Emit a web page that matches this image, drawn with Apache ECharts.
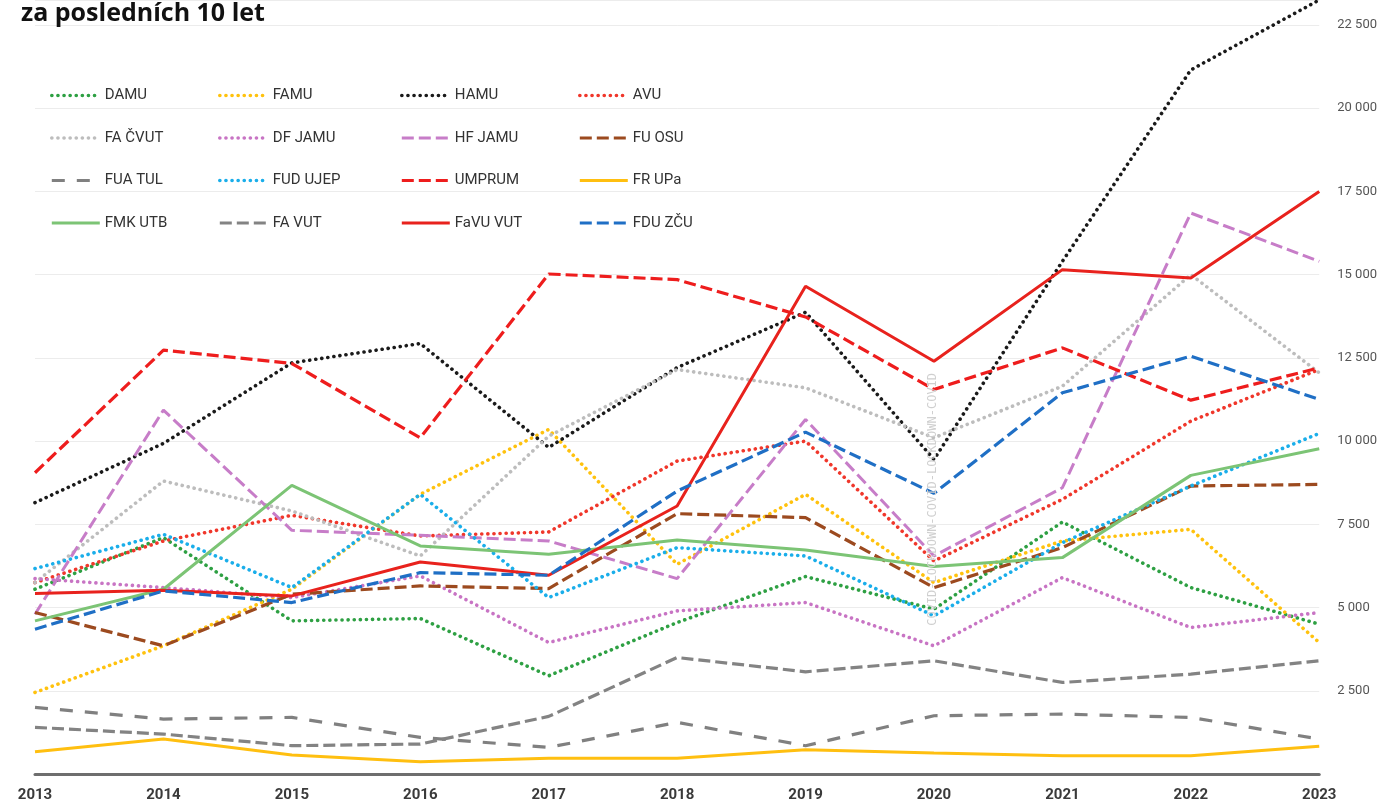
<!DOCTYPE html>
<html>
<head>
<meta charset="UTF-8">
<title>za posledních 10 let</title>
<style>
html, body { margin: 0; padding: 0; background: #fff; }
#main { width: 1380px; height: 803px; }
</style>
</head>
<body>
<div id="main"></div>
<script src="https://cdn.jsdelivr.net/npm/echarts@6/dist/echarts.min.js"></script>
<script>
// roky
var years = ['2013', '2014', '2015', '2016', '2017', '2018', '2019', '2020', '2021', '2022', '2023'];

// hodnoty
var damu    = [5550, 7100, 4600, 4670, 2950, 4550, 5930, 4950, 7570, 5600, 4500];
var famu    = [2450, 3850, 5550, 8400, 10350, 6300, 8400, 5750, 7000, 7350, 3950];
var hamu    = [8150, 9930, 12350, 12930, 9810, 12210, 13870, 9450, 15400, 21150, 23250];
var avu     = [5750, 7000, 7770, 7150, 7270, 9400, 10000, 6400, 8250, 10600, 12150];
var faCvut  = [5750, 8800, 7900, 6550, 10150, 12150, 11600, 10100, 11650, 15000, 12050];
var dfJamu  = [5870, 5600, 5300, 5950, 3950, 4900, 5150, 3850, 5900, 4400, 4850];
var hfJamu  = [4800, 10930, 7320, 7170, 7000, 5870, 10650, 6550, 8600, 16850, 15400];
var fuOsu   = [4850, 3850, 5400, 5650, 5570, 7820, 7700, 5600, 6800, 8650, 8700];
var fuaTul  = [2000, 1650, 1700, 1100, 800, 1550, 850, 1750, 1800, 1700, 1050];
var fudUjep = [6170, 7200, 5600, 8400, 5300, 6800, 6550, 4750, 6950, 8650, 10230];
var umprum  = [9050, 12730, 12330, 10100, 15020, 14850, 13730, 11550, 12800, 11230, 12200];
var frUpa   = [670, 1050, 570, 370, 470, 470, 730, 630, 550, 550, 830];
var fmkUtb  = [4600, 5550, 8670, 6850, 6600, 7030, 6730, 6230, 6500, 8970, 9770];
var faVut   = [1400, 1200, 850, 900, 1730, 3500, 3070, 3400, 2750, 3000, 3400];
var favuVut = [5420, 5520, 5350, 6370, 5970, 8050, 14650, 12400, 15150, 14900, 17500];
var fduZcu  = [4350, 5500, 5150, 6050, 5970, 8500, 10270, 8430, 11450, 12550, 11250];

var app = echarts.init(document.getElementById('main'));

var DOT = [0.1, 6];
var DASH = [12, 5];
var styles = {};

function line(name, data, color, type, width) {
	var ls = {
		color: color,
		width: width || 3,
		type: type,
		cap: type === DOT ? 'round' : 'butt'
	};
	styles[name] = ls;
	return {
		name: name,
		type: 'line',
		data: data,
		symbol: 'none',
		smooth: false,
		lineStyle: ls,
		itemStyle: { color: color }
	};
}

function legendCol(left, names) {
	return {
		orient: 'vertical',
		left: left - 5,
		top: 83,
		itemWidth: 48,
		itemHeight: 14,
		itemGap: 27.5,
		selectedMode: false,
		itemStyle: { opacity: 0 },
		textStyle: {
			color: '#333',
			fontSize: 15,
			fontFamily: 'Roboto'
		},
		data: names.map(function (n) {
			var s = styles[n];
			return {
				name: n,
				itemStyle: { opacity: 0 },
				lineStyle: {
					color: s.color,
					width: s.width,
					type: s.type,
					cap: s.cap,
					opacity: 1
				}
			};
		})
	};
}

var series = [
	line('DAMU', damu, '#2ea043', DOT, 3.6),
	line('FAMU', famu, '#ffc20e', DOT, 3.6),
	line('HAMU', hamu, '#1a1a1a', DOT, 3.6),
	line('AVU', avu, '#f0372b', DOT, 3.6),
	line('FA ČVUT', faCvut, '#bdbdbd', DOT, 3.6),
	line('DF JAMU', dfJamu, '#c874c4', DOT, 3.6),
	line('HF JAMU', hfJamu, '#c77dc8', DASH, 3),
	line('FU OSU', fuOsu, '#9c4a1f', DASH, 3.2),
	line('FUA TUL', fuaTul, '#808080', [13, 12], 3.2),
	line('FUD UJEP', fudUjep, '#1aaeea', DOT, 3.6),
	line('UMPRUM', umprum, '#ee1d1d', DASH, 3.2),
	line('FR UPa', frUpa, '#ffbf10', 'solid', 3),
	line('FMK UTB', fmkUtb, '#7cc475', 'solid', 3),
	line('FA VUT', faVut, '#838383', DASH, 3.2),
	line('FaVU VUT', favuVut, '#e8221d', 'solid', 3),
	line('FDU ZČU', fduZcu, '#1f6fc5', DASH, 3.2)
];

// popisek covid u roku 2020
series[11].markLine = {
	silent: true,
	symbol: 'none',
	lineStyle: { color: 'rgba(255,255,255,0)', width: 1, type: 'solid' },
	label: {
		show: true,
		position: 'middle',
		distance: -5,
		formatter: 'COVID-LOCKDOWN-COVID-LOCKDOWN-COVID',
		color: '#cfcfcf',
		fontSize: 12,
		fontFamily: 'DejaVu Sans Mono'
	},
	data: [[{ coord: ['2020', 2250] }, { coord: ['2020', 14250] }]]
};

var option = {
	animation: false,
	backgroundColor: '#fff',
	title: {
		text: 'za posledních 10 let',
		left: 16,
		top: -4,
		textStyle: {
			color: '#111',
			fontSize: 25,
			fontWeight: 'bold',
			fontFamily: 'Open Sans'
		}
	},
	legend: [
		legendCol(50, ['DAMU', 'FA ČVUT', 'FUA TUL', 'FMK UTB']),
		legendCol(218, ['FAMU', 'DF JAMU', 'FUD UJEP', 'FA VUT']),
		legendCol(400, ['HAMU', 'HF JAMU', 'UMPRUM', 'FaVU VUT']),
		legendCol(578, ['AVU', 'FU OSU', 'FR UPa', 'FDU ZČU'])
	],
	grid: {
		left: 35,
		right: 58,
		top: 0,
		bottom: 28,
		containLabel: false
	},
	xAxis: {
		type: 'category',
		boundaryGap: false,
		data: years,
		axisLine: { lineStyle: { color: '#6e6e6e', width: 3 } },
		axisTick: { show: false },
		splitLine: { show: false },
		axisLabel: {
			color: '#3a3a3a',
			fontSize: 15,
			fontWeight: 'bold',
			fontFamily: 'Roboto',
			margin: 14
		}
	},
	yAxis: {
		type: 'value',
		position: 'right',
		min: 0,
		max: 23250,
		interval: 2500,
		axisLine: { show: false },
		axisTick: { show: false },
		splitLine: { lineStyle: { color: '#ececec', width: 1 } },
		axisLabel: {
			color: '#555',
			fontSize: 13,
			fontFamily: 'Roboto',
			margin: 18,
			formatter: function (v) {
				if (v === 0 || v % 2500 !== 0) return '';
				return String(v).replace(/\B(?=(\d{3})+(?!\d))/g, ' ');
			}
		}
	},
	series: series
};

app.setOption(option);
</script>
</body>
</html>
